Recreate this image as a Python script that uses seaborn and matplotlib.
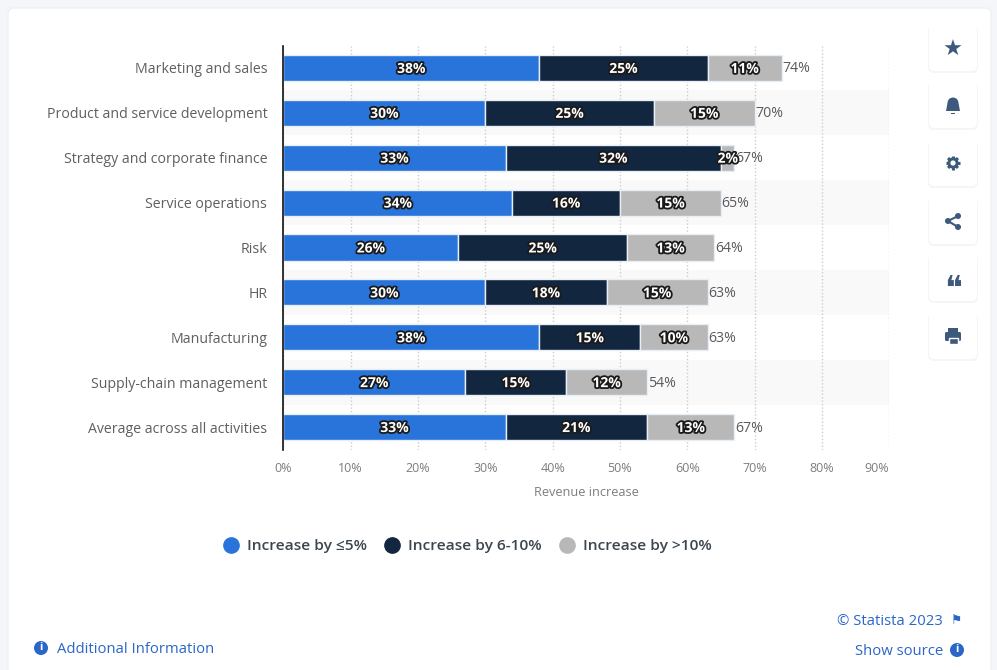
import matplotlib
matplotlib.use("Agg")
import matplotlib.pyplot as plt
import matplotlib.patheffects as pe
from matplotlib.lines import Line2D
from matplotlib.patches import Circle, FancyBboxPatch, Polygon, Rectangle, Wedge
import numpy as np
import pandas as pd
import seaborn as sns

activities = ["Marketing and sales", "Product and service development",
              "Strategy and corporate finance", "Service operations", "Risk", "HR",
              "Manufacturing", "Supply-chain management", "Average across all activities"]
low = [38, 30, 33, 34, 26, 30, 38, 27, 33]
mid = [25, 25, 32, 16, 25, 18, 15, 15, 21]
high = [11, 15, 2, 15, 13, 15, 10, 12, 13]
totals = [74, 70, 67, 65, 64, 63, 63, 54, 67]
x_ticks = [0, 10, 20, 30, 40, 50, 60, 70, 80, 90]
series_names = ["Increase by ≤5%", "Increase by 6-10%", "Increase by >10%"]

BLUE = "#2874db"
NAVY = "#12263f"
GREY = "#b8b8b8"
LINK = "#2a66c8"
ICON = "#3d5a7d"
W, H = 997, 670

sns.set_theme(style="white")
plt.rcParams["font.family"] = ["Open Sans", "DejaVu Sans"]

fig = plt.figure(figsize=(W / 100, H / 100), dpi=100, facecolor="#f4f6f9")

# page furniture, in pixel coordinates
bg = fig.add_axes([0, 0, 1, 1], zorder=0)
bg.set_xlim(0, W)
bg.set_ylim(H, 0)
bg.axis("off")
bg.add_patch(FancyBboxPatch((8, 8), 983, 700, boxstyle="round,pad=0,rounding_size=6",
                            fc="white", ec="#eef0f4", lw=1))
for top in [24, 81, 139, 197, 254, 312]:
    bg.add_patch(FancyBboxPatch((928, top + 1), 50, 48, boxstyle="round,pad=0,rounding_size=6",
                                fc="#f3f5f8", ec="none"))
    bg.add_patch(FancyBboxPatch((929, top), 48, 47, boxstyle="round,pad=0,rounding_size=5",
                                fc="white", ec="none"))

bg.text(953, 50, "★", color=ICON, fontsize=16, ha="center", va="center", family="DejaVu Sans")
# bell
bg.add_patch(Wedge((953, 103), 5.5, 180, 360, fc=ICON, ec="none"))
bg.add_patch(Polygon([(947.5, 103), (958.5, 103), (960, 111), (946, 111)], fc=ICON, ec="none"))
bg.add_patch(Rectangle((951, 112.5), 4, 1.5, fc=ICON, ec="none"))
# gear
for angle in np.arange(0, 180, 45):
    dx, dy = 7 * np.cos(np.radians(angle)), 7 * np.sin(np.radians(angle))
    bg.plot([953 - dx, 953 + dx], [163 - dy, 163 + dy], color=ICON, lw=2.2, solid_capstyle="butt")
bg.add_patch(Circle((953, 163), 5.6, fc=ICON, ec="none", zorder=3))
bg.add_patch(Circle((953, 163), 2.6, fc="white", ec="none", zorder=4))
# share
bg.plot([958, 948, 958], [216, 221, 227], color=ICON, lw=1.5)
for cx, cy in [(958, 216), (948, 221), (958, 227)]:
    bg.add_patch(Circle((cx, cy), 3, fc=ICON, ec="none"))
bg.text(953, 289, "❝", color=ICON, fontsize=24, ha="center", va="center", family="DejaVu Sans")
# printer
bg.add_patch(FancyBboxPatch((945, 332), 16, 9, boxstyle="round,pad=0,rounding_size=1.5", fc=ICON, ec="none"))
bg.add_patch(Rectangle((948, 328), 10, 4, fc=ICON, ec="none"))
bg.add_patch(Rectangle((948.5, 338), 9, 5.5, fc=ICON, ec="white", lw=1))

# chart
ax = fig.add_axes([283.3 / W, 1 - 449.5 / H, 606 / W, 404 / H], zorder=1)
ax.patch.set_alpha(0)

df = pd.DataFrame({"activity": activities, "low": low, "mid": mid, "high": high})
df["mid_start"] = df["low"]
df["high_start"] = df["low"] + df["mid"]

for i in range(1, len(activities), 2):
    ax.axhspan(i - 0.5, i + 0.5, color="#f9f9f9", lw=0, zorder=0)

bar_kws = dict(data=df, y="activity", order=activities, orient="h", width=0.58, ax=ax,
               edgecolor="#e8eef6", linewidth=1, zorder=3)
sns.barplot(x="low", color=BLUE, saturation=1, **bar_kws)
sns.barplot(x="mid", left=df["mid_start"], color=NAVY, saturation=1, **bar_kws)
sns.barplot(x="high", left=df["high_start"], color=GREY, saturation=1, **bar_kws)

ax.set_xlim(0, 90)
ax.set_ylim(len(activities) - 0.5, -0.5)
ax.set_xticks(x_ticks)
ax.set_xticklabels([f"{t}%" for t in x_ticks], fontsize=9, color="#7d7d7d")
ax.get_xticklabels()[-1].set_ha("right")
ax.tick_params(axis="x", length=0, pad=9)
ax.tick_params(axis="y", length=0, pad=11.5, labelsize=10.2, labelcolor="#5f5f5f")
ax.set_ylabel("")
ax.set_xlabel("Revenue increase", fontsize=9.2, color="#7d7d7d", labelpad=8, x=0.5)
ax.xaxis.grid(True, color="#cccccc", linestyle=(0, (1, 1.5)), linewidth=1, zorder=1)
ax.set_axisbelow(True)
for side in ["top", "right", "bottom"]:
    ax.spines[side].set_visible(False)
ax.spines["left"].set_color("#111111")
ax.spines["left"].set_linewidth(1.2)
ax.spines["left"].set_zorder(5)

stroke = [pe.withStroke(linewidth=2.6, foreground="#1a1a1a")]
for container, values in zip(ax.containers, [low, mid, high]):
    labels = ax.bar_label(container, labels=[f"{v}%" for v in values], label_type="center",
                          color="white", fontsize=10, fontweight="bold", zorder=6)
    for label in labels:
        label.set_path_effects(stroke)
        label.xyann = (0, -0.7)
total_labels = ax.bar_label(ax.containers[2], labels=[f"{v}%" for v in totals], padding=0.5,
                            color="#5a5a5a", fontsize=10.2, zorder=4)
for label in total_labels:
    label.xyann = (0.5, -0.7)

handles = [Line2D([], [], marker="o", linestyle="none", markersize=11, color=c)
           for c in [BLUE, NAVY, GREY]]
fig.legend(handles, series_names, loc="center", bbox_to_anchor=(463.5 / W, 1 - 546 / H), ncol=3,
           frameon=False, handletextpad=0.05, columnspacing=0.6,
           prop={"size": 11.15, "weight": 600}, labelcolor="#3c4650")

# footer
bg.text(214, 649.5, "Additional Information", color=LINK, fontsize=10.7, ha="right", va="center")
bg.add_patch(Circle((41, 648), 7, fc=LINK, ec="none"))
bg.text(41, 648, "i", color="white", fontsize=8, fontweight="bold", ha="center", va="center")
bg.text(943, 621.5, "© Statista 2023", color=LINK, fontsize=10.7, ha="right", va="center")
bg.text(957, 620, "⚑", color=LINK, fontsize=9, ha="center", va="center", family="DejaVu Sans")
bg.text(943, 651.5, "Show source", color=LINK, fontsize=10.7, ha="right", va="center")
bg.add_patch(Circle((957, 650), 7, fc=LINK, ec="none"))
bg.text(957, 650, "i", color="white", fontsize=8, fontweight="bold", ha="center", va="center")

fig.savefig("out.png", dpi=100, facecolor=fig.get_facecolor())
